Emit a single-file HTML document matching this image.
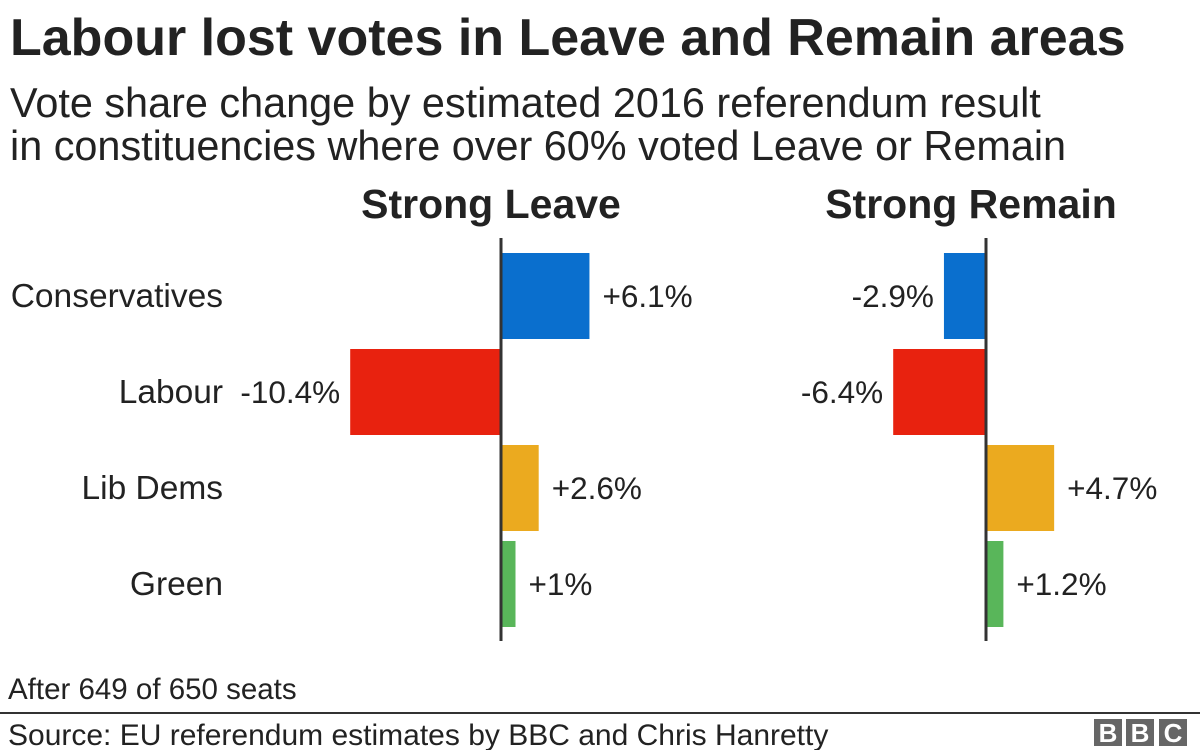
<!DOCTYPE html>
<html><head><meta charset="utf-8"><style>
body{margin:0;width:1200px;height:750px;background:#fff;overflow:hidden;font-family:"Liberation Sans",sans-serif;color:#222}
</style></head><body>
<svg width="1200" height="750" font-family="Liberation Sans, sans-serif">
<text x="10" y="55" font-size="52" font-weight="bold" fill="#222">Labour lost votes in Leave and Remain areas</text>
<text x="10" y="117" font-size="41.4" fill="#222">Vote share change by estimated 2016 referendum result</text>
<text x="10" y="160" font-size="41.4" fill="#222">in constituencies where over 60% voted Leave or Remain</text>
<g id="plot"></g>
<text x="8" y="699" font-size="29.5" fill="#222">After 649 of 650 seats</text>
<rect x="0" y="712" width="1200" height="2" fill="#333"/>
<text x="8" y="745" font-size="30" fill="#222">Source: EU referendum estimates by BBC and Chris Hanretty</text>
<g font-weight="bold" font-size="26" fill="#fff" text-anchor="middle">
<rect x="1094" y="719" width="28" height="27" fill="#666"/><text x="1108" y="742">B</text>
<rect x="1126" y="719" width="28" height="27" fill="#666"/><text x="1140" y="742">B</text>
<rect x="1159" y="719" width="28" height="27" fill="#666"/><text x="1173" y="742">C</text>
</g>
</svg>
<script>
const categories=["Conservatives","Labour","Lib Dems","Green"];
const colors=["#0a6fce","#e8220f","#ebaa1f","#59b65a"];
const panels=["Strong Leave","Strong Remain"];
const leaveValues=[6.1,-10.4,2.6,1];
const remainValues=[-2.9,-6.4,4.7,1.2];
const leaveLabels=["+6.1%","-10.4%","+2.6%","+1%"];
const remainLabels=["-2.9%","-6.4%","+4.7%","+1.2%"];
const NS="http://www.w3.org/2000/svg";
const g=document.getElementById('plot');
const pxPer=14.5, rowTop=253, rowPitch=96, barH=86;
function mk(t,a){const e=document.createElementNS(NS,t);for(const k in a)e.setAttribute(k,a[k]);g.appendChild(e);return e;}
function yRow(i){return rowTop+i*rowPitch;}
categories.forEach((c,i)=>{
  const t=mk('text',{x:223,y:yRow(i)+barH/2+11,'font-size':33.5,'text-anchor':'end',fill:'#222'});
  t.textContent=c;
  
  
});
[[501,leaveValues,leaveLabels,491],[986,remainValues,remainLabels,971]].forEach(([ax,vals,labs,hx],p)=>{
  const xs=v=>ax+v*pxPer;
  const h=mk('text',{x:hx,y:218,'font-size':41,'font-weight':'bold','text-anchor':'middle',fill:'#222'});
  h.textContent=panels[p];
  
  
  vals.forEach((v,i)=>{
    const x0=Math.min(xs(0),xs(v)),w=Math.abs(xs(v)-xs(0));
    const r=mk('rect',{x:x0,y:yRow(i),width:w,height:barH,fill:colors[i]});
    
    
    const lx=v>=0?xs(v)+13:xs(v)-10;
    const t=mk('text',{x:lx,y:yRow(i)+barH/2+11,'font-size':31.5,'text-anchor':v>=0?'start':'end',fill:'#222'});
    t.textContent=labs[i];
    
    
  });
  const a=mk('rect',{x:ax-1.5,y:238,width:3,height:403,fill:'#333'});
  
  
});
</script>
</body></html>
